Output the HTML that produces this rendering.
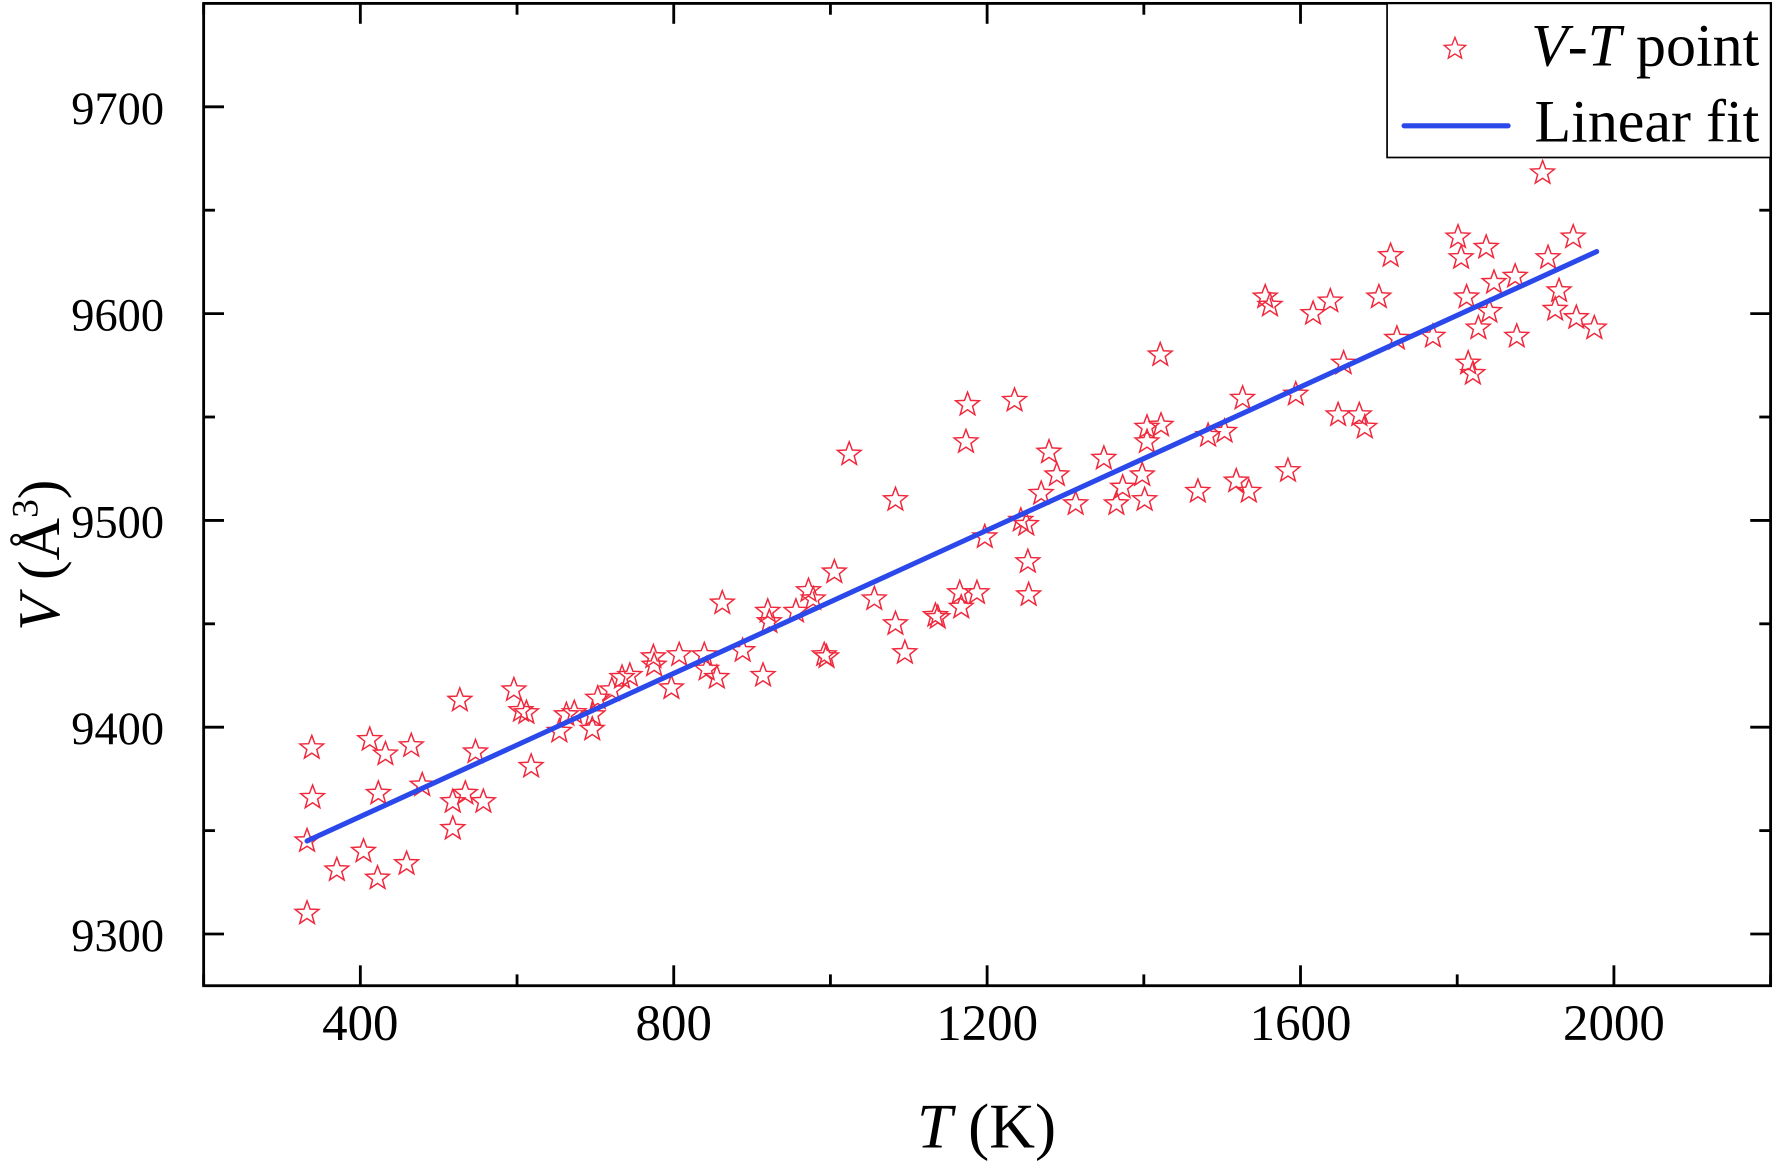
<!DOCTYPE html>
<html><head><meta charset="utf-8"><style>
html,body{margin:0;padding:0;background:#fff}
svg{display:block}
text{font-family:"Liberation Serif",serif;fill:#000}
</style></head><body>
<svg id="chart" width="1774" height="1167" viewBox="0 0 1568 1030" preserveAspectRatio="none" xmlns="http://www.w3.org/2000/svg">
<g id="marks"></g>
<g id="axes"></g>
</svg>
<script>
const temps=[332,332,338,339,370,404,412,422,423,432,459,465,479,518,518,527,534,547,557,596,605,612,618,654,663,673,696,697,703,721,734,744,774,775,797,807,839,842,855,862,888,914,920,922,956,972,978,992,995,1005,1024,1056,1083,1083,1095,1134,1137,1165,1167,1173,1175,1187,1197,1235,1243,1250,1252,1253,1269,1279,1289,1313,1349,1365,1373,1398,1401,1404,1404,1421,1422,1469,1482,1503,1518,1526,1534,1555,1561,1584,1594,1616,1638,1648,1655,1675,1682,1700,1715,1723,1769,1801,1805,1812,1814,1820,1827,1837,1841,1847,1874,1876,1909,1916,1925,1930,1948,1952,1975];
const volumes=[9345,9310,9390,9366,9331,9340,9394,9327,9368,9387,9334,9391,9372,9351,9364,9413,9368,9388,9364,9418,9408,9407,9381,9398,9406,9407,9399,9406,9414,9418,9424,9425,9434,9430,9419,9435,9435,9428,9424,9460,9437,9425,9456,9451,9456,9466,9462,9435,9434,9475,9532,9462,9510,9450,9436,9454,9453,9465,9458,9538,9556,9465,9492,9558,9500,9498,9480,9464,9513,9533,9522,9508,9530,9508,9516,9522,9510,9545,9538,9580,9546,9514,9541,9543,9519,9559,9514,9608,9604,9524,9561,9600,9606,9551,9576,9551,9545,9608,9628,9588,9589,9637,9627,9608,9576,9571,9593,9632,9601,9615,9618,9589,9668,9627,9602,9611,9637,9598,9593];
const fitStart=[332,9345];
const fitEnd=[1978,9630];
const xTicks=[400,800,1200,1600,2000];
const yTicks=[9300,9400,9500,9600,9700];

const L=180,R=1565,T=3,B=870;
const X0=200,X1=2200,Y0=9275,Y1=9750;
const sx=v=>L+(v-X0)/(X1-X0)*(R-L);
const sy=v=>B-(v-Y0)/(Y1-Y0)*(B-T);
const NS="http://www.w3.org/2000/svg";
function mk(tag,attrs,parent){const e=document.createElementNS(NS,tag);for(const k in attrs)e.setAttribute(k,attrs[k]);parent.appendChild(e);return e;}
function starPts(cx,cy,r){let p=[];for(let i=0;i<10;i++){const rr=i%2?r*0.42:r;const a=-Math.PI/2+i*Math.PI/5;p.push((cx+rr*Math.cos(a)).toFixed(1)+","+(cy+rr*Math.sin(a)).toFixed(1));}return p.join(" ");}
const marks=document.getElementById('marks');
const axes=document.getElementById('axes');
for(let i=0;i<temps.length;i++){
  const s=mk('polygon',{points:starPts(sx(temps[i]),sy(volumes[i]),11),fill:'none',stroke:'#f0283c','stroke-width':1.3},marks);
  
  
}
const fl=mk('line',{x1:sx(fitStart[0]),y1:sy(fitStart[1]),x2:sx(fitEnd[0]),y2:sy(fitEnd[1]),stroke:'#2b48ea','stroke-width':4.5,'stroke-linecap':'round'},marks);


const fr=mk('rect',{x:L,y:T,width:R-L,height:B-T,fill:'none',stroke:'#000','stroke-width':2.5},axes);


for(let v=X0;v<=X1;v+=200){
  const major=(v%400===0);const len=major?18:10;const x=sx(v);
  mk('line',{x1:x,y1:B,x2:x,y2:B-len,stroke:'#000','stroke-width':2.5},axes);
  mk('line',{x1:x,y1:T,x2:x,y2:T+len,stroke:'#000','stroke-width':2.5},axes);
}
for(const v of xTicks){
  const t=mk('text',{x:sx(v),y:B+48,'text-anchor':'middle','font-size':45},axes);t.textContent=v;
  
  
}
for(let v=9300;v<Y1;v+=50){
  const major=(v%100===0);const len=major?18:10;const y=sy(v);
  mk('line',{x1:L,y1:y,x2:L+len,y2:y,stroke:'#000','stroke-width':2.5},axes);
  mk('line',{x1:R,y1:y,x2:R-len,y2:y,stroke:'#000','stroke-width':2.5},axes);
}
for(const v of yTicks){
  const t=mk('text',{x:L-35,y:sy(v)+15,'text-anchor':'end','font-size':41},axes);t.textContent=v;
  
  
}
</script>
<svg style="position:absolute;left:0;top:0" width="1774" height="1167" viewBox="0 0 1568 1030" preserveAspectRatio="none" xmlns="http://www.w3.org/2000/svg">
<text x="872" y="1013" text-anchor="middle" font-size="56"><tspan font-style="italic">T</tspan> (K)</text>
<text transform="translate(52,490) rotate(-90)" text-anchor="middle" font-size="52"><tspan font-style="italic">V</tspan> (Å<tspan font-size="33" dy="-19">3</tspan><tspan dy="19">)</tspan></text>
<g>
<rect x="1226" y="3" width="339" height="136" fill="#fff" stroke="#000" stroke-width="1.5"/>
<polygon points="1286.0,33.0 1288.6,39.6 1295.5,40.1 1290.2,44.6 1291.9,51.3 1286.0,47.6 1280.1,51.3 1281.8,44.6 1276.5,40.1 1283.4,39.6" fill="none" stroke="#f0283c" stroke-width="1.2"/>
<text x="1555" y="58" text-anchor="end" font-size="53"><tspan font-style="italic">V</tspan>-<tspan font-style="italic">T</tspan> point</text>
<line x1="1241" y1="111" x2="1333" y2="111" stroke="#2b48ea" stroke-width="4.5" stroke-linecap="round"/>
<text x="1555" y="125" text-anchor="end" font-size="53">Linear fit</text>
</g>
</svg>
</body></html>
